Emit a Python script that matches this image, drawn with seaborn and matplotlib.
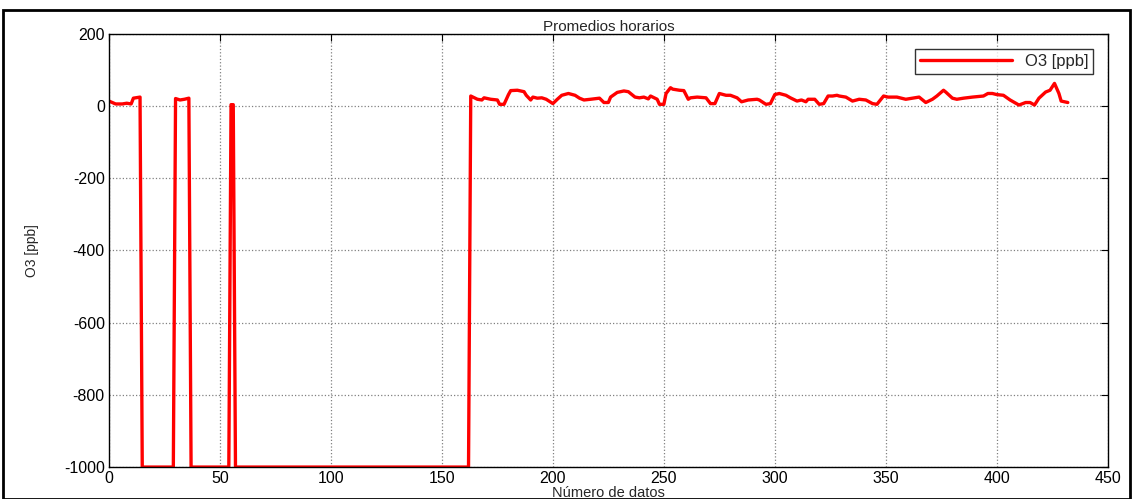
import numpy as np
import pandas as pd
import seaborn as sns
from matplotlib import pyplot as plt
from matplotlib.patches import Rectangle

# puntos (indice de dato, O3 en ppb)
idx = [0, 3, 6, 8, 10, 11, 14, 15, 29, 30, 32, 34, 36, 37, 54, 55, 56, 57, 162,
       163, 166, 168, 169, 172, 175, 176, 178, 180, 181, 184, 187, 188, 190, 191,
       193, 195, 197, 200, 202, 204, 207, 210, 212, 214, 217, 221, 223, 225, 226,
       229, 232, 234, 237, 239, 241, 243, 244, 247, 248, 250, 251, 253, 254, 257,
       259, 261, 262, 265, 269, 271, 273, 275, 278, 280, 283, 285, 288, 292, 293,
       296, 298, 300, 302, 305, 307, 310, 312, 314, 315, 318, 320, 322, 324, 326,
       328, 329, 332, 335, 338, 341, 344, 346, 349, 351, 355, 359, 362, 365, 368,
       371, 373, 376, 377, 380, 382, 385, 389, 394, 396, 398, 400, 403, 406, 410,
       413, 415, 417, 419, 422, 424, 426, 428, 429, 432]
o3 = [14, 6, 6, 8, 6, 22, 25, -1000, -1000, 21, 17, 19, 22, -1000, -1000, 4, 4, -1000, -1000,
      28, 19, 17, 23, 19, 17, 5, 5, 32, 43, 44, 40, 30, 17, 25,
      22, 23, 19, 7, 19, 30, 35, 30, 22, 17, 19, 22, 10, 10, 25,
      38, 42, 40, 25, 23, 25, 20, 28, 19, 5, 5, 35, 51, 47, 44,
      43, 19, 23, 25, 23, 7, 7, 35, 30, 30, 23, 12, 17, 19, 17,
      5, 7, 32, 35, 30, 23, 14, 17, 12, 19, 19, 5, 7, 28, 28,
      30, 28, 25, 14, 19, 17, 7, 5, 28, 25, 25, 19, 22, 25, 10,
      19, 28, 44, 39, 22, 19, 22, 25, 28, 35, 35, 32, 30, 17, 3,
      10, 10, 3, 22, 39, 44, 63, 35, 14, 10]

df = pd.DataFrame({'dato': idx, 'O3': o3})

sns.set_style("white")
plt.rcParams['font.family'] = ['Liberation Sans', 'DejaVu Sans']
plt.rcParams['axes.unicode_minus'] = False

fig = plt.figure(figsize=(11.35, 4.99), dpi=100)
ax = fig.add_axes([0.096, 0.064, 0.880, 0.868])

sns.lineplot(x='dato', y='O3', data=df, color='#ff0000', linewidth=2.4,
             estimator=None, sort=False, label='O3 [ppb]', ax=ax)

ax.set_xlim(0, 450)
ax.set_ylim(-1000, 200)
ax.set_xticks(np.arange(0, 451, 50))
ax.set_yticks(np.arange(-1000, 201, 200))
ax.grid(True, color='#808080', linestyle=':', linewidth=0.9)
ax.tick_params(direction='in', length=5, top=True, right=True, labelsize=11.5,
               width=0.8, colors='black', pad=3)
for s in ax.spines.values():
    s.set_color('black')
    s.set_linewidth(1.0)

ax.set_title("Promedios horarios", fontsize=11, pad=2)
ax.set_xlabel("Número de datos", fontsize=10.5, labelpad=0)
ax.set_ylabel("O3 [ppb]", fontsize=10, labelpad=18)

leg = ax.legend(loc='upper right', fontsize=12, frameon=True, fancybox=False,
                handlelength=5.5, borderpad=0.3, bbox_to_anchor=(0.994, 0.985))
leg.get_frame().set_edgecolor('black')
leg.get_frame().set_linewidth(1.0)

# marco exterior
fig.patches.append(Rectangle((0.003, 0.0), 0.993, 0.98, transform=fig.transFigure,
                             fill=False, edgecolor='black', linewidth=2))

fig.savefig('out.png', dpi=100)
